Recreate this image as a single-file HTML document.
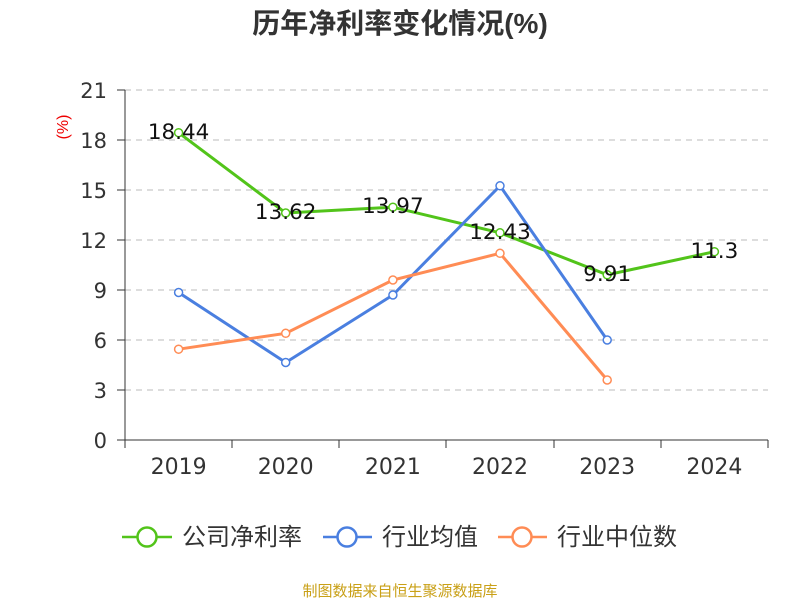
<!DOCTYPE html>
<html><head><meta charset="utf-8"><style>
body{margin:0;background:#fff;}
svg text{font-family:"Liberation Sans","Noto Sans CJK SC",sans-serif;}
svg .n{font-family:"DejaVu Sans",sans-serif;}
</style></head><body>
<svg width="800" height="600" viewBox="0 0 800 600" xmlns="http://www.w3.org/2000/svg">
<text x="400" y="33" text-anchor="middle" font-size="28" font-weight="bold" fill="#333">历年净利率变化情况(%)</text>
<text x="68" y="127" text-anchor="middle" font-size="16" fill="#e00" transform="rotate(-90 68 127)">(%)</text>
<g stroke="#bbb" stroke-dasharray="6,5" stroke-width="1">
<line x1="125" x2="768" y1="90" y2="90"/><line x1="125" x2="768" y1="140" y2="140"/>
<line x1="125" x2="768" y1="190" y2="190"/><line x1="125" x2="768" y1="240" y2="240"/>
<line x1="125" x2="768" y1="290" y2="290"/><line x1="125" x2="768" y1="340" y2="340"/>
<line x1="125" x2="768" y1="390" y2="390"/>
</g>
<g stroke="#333" stroke-width="1">
<line x1="125" x2="125" y1="90" y2="440"/><line x1="125" x2="768" y1="440" y2="440"/>
<line x1="117" x2="125" y1="90" y2="90"/><line x1="117" x2="125" y1="140" y2="140"/>
<line x1="117" x2="125" y1="190" y2="190"/><line x1="117" x2="125" y1="240" y2="240"/>
<line x1="117" x2="125" y1="290" y2="290"/><line x1="117" x2="125" y1="340" y2="340"/>
<line x1="117" x2="125" y1="390" y2="390"/><line x1="117" x2="125" y1="440" y2="440"/>
<line x1="125" x2="125" y1="440" y2="448"/><line x1="232" x2="232" y1="440" y2="448"/>
<line x1="339" x2="339" y1="440" y2="448"/><line x1="446" x2="446" y1="440" y2="448"/>
<line x1="554" x2="554" y1="440" y2="448"/><line x1="661" x2="661" y1="440" y2="448"/>
<line x1="768" x2="768" y1="440" y2="448"/>
</g>
<g class="n" font-size="21" fill="#333" text-anchor="end">
<text class="n" x="107" y="98">21</text><text class="n" x="107" y="148">18</text><text class="n" x="107" y="198">15</text>
<text class="n" x="107" y="248">12</text><text class="n" x="107" y="298">9</text><text class="n" x="107" y="348">6</text>
<text class="n" x="107" y="398">3</text><text class="n" x="107" y="448">0</text>
</g>
<g font-size="22" fill="#333" text-anchor="middle">
<text class="n" x="178.6" y="474">2019</text><text class="n" x="285.7" y="474">2020</text><text class="n" x="392.9" y="474">2021</text>
<text class="n" x="500" y="474">2022</text><text class="n" x="607.2" y="474">2023</text><text class="n" x="714.4" y="474">2024</text>
</g>
<g fill="none" stroke-width="3">
<polyline stroke="#52c41a" points="178.6,132.7 285.7,213 392.9,207.2 500,232.8 607.2,274.8 714.4,251.7"/>
<polyline stroke="#4a7fe0" points="178.6,292.5 285.7,362.5 392.9,295 500,185.8 607.2,340"/>
<polyline stroke="#ff8c55" points="178.6,349.2 285.7,333.3 392.9,280 500,253.3 607.2,380"/>
</g>
<g fill="#fff" stroke-width="1.5">
<g stroke="#52c41a"><circle cx="178.6" cy="132.7" r="4"/><circle cx="285.7" cy="213" r="4"/><circle cx="392.9" cy="207.2" r="4"/><circle cx="500" cy="232.8" r="4"/><circle cx="607.2" cy="274.8" r="4"/><circle cx="714.4" cy="251.7" r="4"/></g>
<g stroke="#4a7fe0"><circle cx="178.6" cy="292.5" r="4"/><circle cx="285.7" cy="362.5" r="4"/><circle cx="392.9" cy="295" r="4"/><circle cx="500" cy="185.8" r="4"/><circle cx="607.2" cy="340" r="4"/></g>
<g stroke="#ff8c55"><circle cx="178.6" cy="349.2" r="4"/><circle cx="285.7" cy="333.3" r="4"/><circle cx="392.9" cy="280" r="4"/><circle cx="500" cy="253.3" r="4"/><circle cx="607.2" cy="380" r="4"/></g>
</g>
<g font-size="21.5" fill="#111" text-anchor="middle">
<text class="n" x="178.6" y="139">18.44</text><text class="n" x="285.7" y="219">13.62</text><text class="n" x="392.9" y="213">13.97</text>
<text class="n" x="500" y="239">12.43</text><text class="n" x="607.2" y="281">9.91</text><text class="n" x="714.4" y="258">11.3</text>
</g>
<g stroke-width="2.5" fill="#fff">
<line x1="122" x2="172" y1="537" y2="537" stroke="#52c41a"/><circle cx="147" cy="537" r="9.5" stroke="#52c41a"/>
<line x1="323" x2="372" y1="537" y2="537" stroke="#4a7fe0"/><circle cx="347" cy="537" r="9.5" stroke="#4a7fe0"/>
<line x1="498" x2="547" y1="537" y2="537" stroke="#ff8c55"/><circle cx="522" cy="537" r="9.5" stroke="#ff8c55"/>
</g>
<g font-size="24" fill="#333">
<text x="182" y="545">公司净利率</text><text x="382" y="545">行业均值</text><text x="557" y="545">行业中位数</text>
</g>
<text x="400" y="596" text-anchor="middle" font-size="15" fill="#c9a017">制图数据来自恒生聚源数据库</text>
</svg>
</body></html>
